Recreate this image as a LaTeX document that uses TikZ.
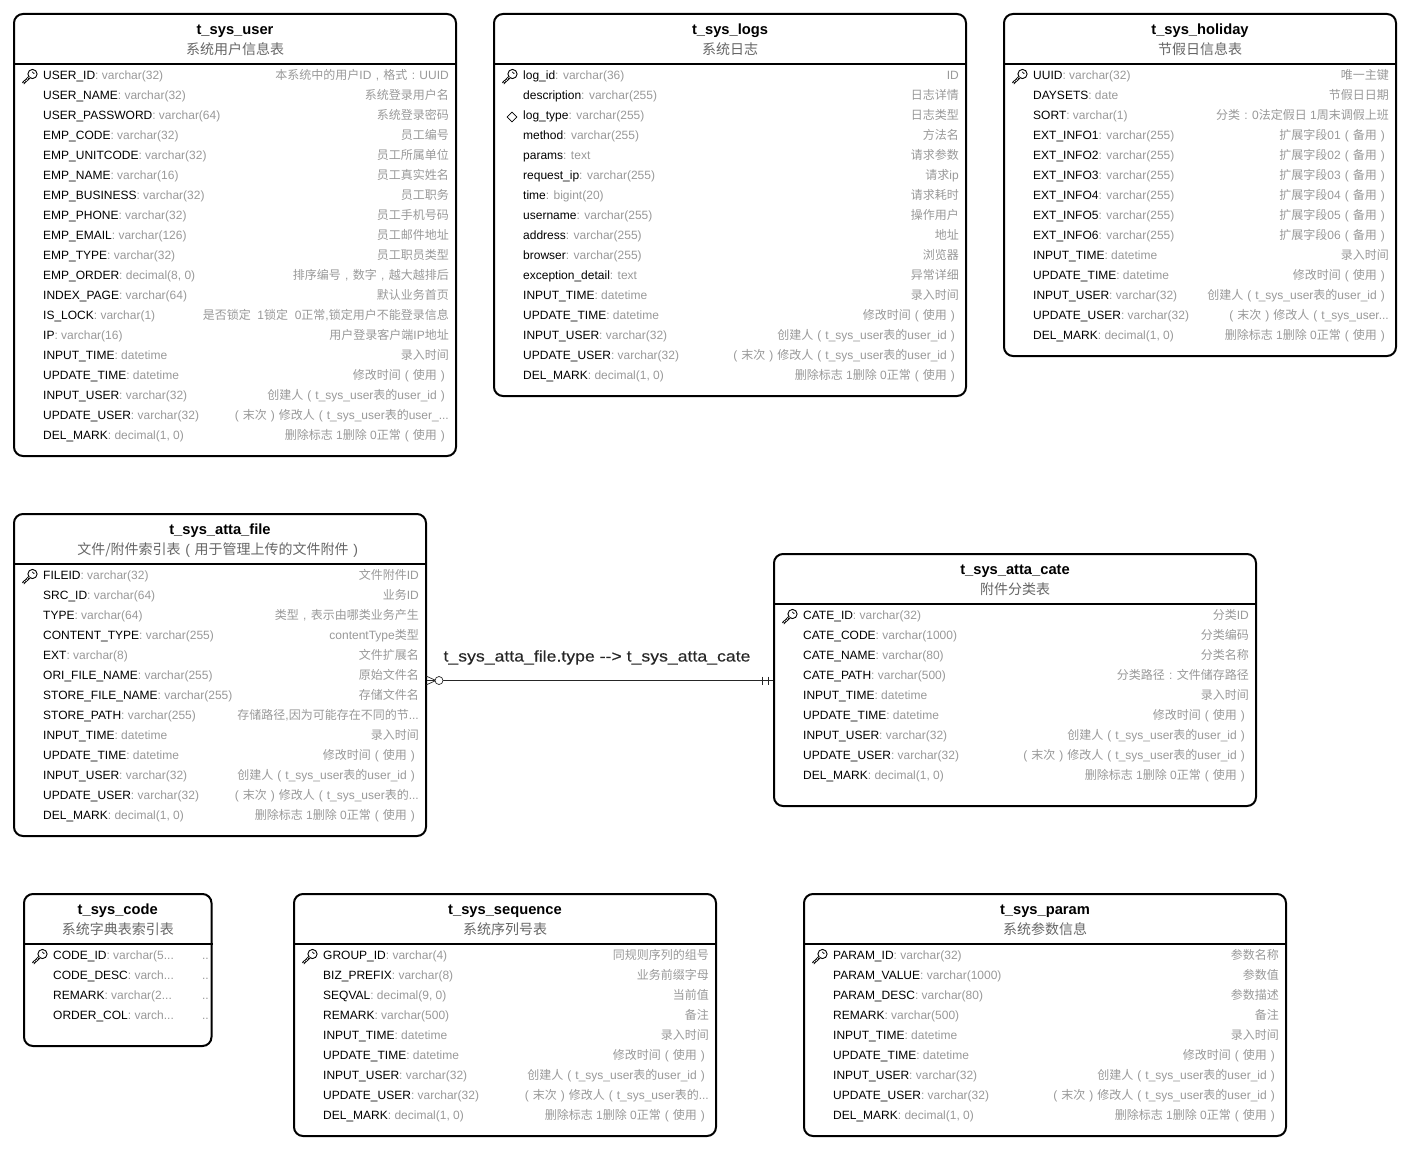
\documentclass[tikz,border=0pt]{standalone}
\usepackage{fontspec}
\setmainfont{Liberation Sans}
\newfontfamily\cjkfont{Noto Sans CJK SC}
\newfontfamily\linkfont[FakeStretch=1.14,FakeBold=0.25]{Liberation Sans}
\usetikzlibrary{shapes.geometric}
\definecolor{typegray}{HTML}{999999}
\definecolor{subgray}{HTML}{666666}
\newcommand{\Z}[1]{{\cjkfont #1}}
% full width marks, centred in their em as the reference prints them
\newcommand{\LP}{\makebox[1em]{\rmfamily(}}
\newcommand{\RP}{\makebox[1em]{\rmfamily)}}
\newcommand{\CM}{\makebox[1em]{\rmfamily,}}
\newcommand{\CL}{\makebox[1em]{\rmfamily:}}
\newcommand{\used}{\Z{修改时间\LP 使用\RP}}
\newcommand{\byuser}{\Z{创建人\LP}t\_sys\_user\Z{表的}user\_id\RP}
\newcommand{\delmark}{\Z{删除标志} 1\Z{删除} 0\Z{正常\LP 使用\RP}}
\newcounter{rowno}
\newcommand{\startrows}[4]{\def\rowtbl{#1}\def\rowl{#2}\def\rowr{#3}\def\rowy{#4}\setcounter{rowno}{0}}
\newcommand{\fieldrow}[3]{\stepcounter{rowno}%
\node[fieldname] (\rowtbl N\arabic{rowno}) at (\rowl,{\rowy+20*\value{rowno}-20+4.6}) {#1\textcolor{typegray}{: #2}};%
\node[fieldnote] (\rowtbl C\arabic{rowno}) at (\rowr,{\rowy+20*\value{rowno}-20+4.6}) {#3};}
\newcommand{\ertable}[7]{%
\node[tablebox, minimum width=#4pt, minimum height=#5pt] (#1) at ({#2+#4/2},{#3+#5/2}){};%
\node[tabletitle] (#1Title) at ([yshift=-21.3pt]#1.north) {#6};%
\node[tablesub] (#1Sub) at ([yshift=-41.7pt]#1.north) {#7};%
\draw[tablerule] ([yshift=-51pt]#1.north west) -- ([yshift=-51pt]#1.north east);}
\tikzset{
  tablebox/.style={draw=black, line width=2pt, rounded corners=9pt, inner sep=0pt, fill=white},
  tabletitle/.style={anchor=base, font=\fontsize{14.7}{16}\selectfont\bfseries, text=black, inner sep=0pt},
  tablesub/.style={anchor=base, font=\fontsize{14}{16}\selectfont\cjkfont, text=subgray, inner sep=0pt},
  tablerule/.style={draw=black, line width=2pt},
  fieldname/.style={anchor=base west, font=\fontsize{12}{14}\selectfont, text=black, inner sep=0pt},
  fieldnote/.style={anchor=base east, font=\fontsize{12}{14}\selectfont, text=typegray, inner sep=0pt},
  indexmark/.style={diamond, draw=black, line width=.8pt, inner sep=0pt, minimum width=10pt, minimum height=10pt},
  linklabel/.style={anchor=base, font=\fontsize{15.5}{17}\selectfont\linkfont, text=black!85, inner sep=0pt},
  keyicon/.pic={
    \draw[black, line width=.9pt] (3.5,-2) circle (4.6);
    \draw[black, line width=.7pt] (3.2,-4.2) arc (180:60:1.6);
    \draw[black, line width=2.8pt] (.4,1.2) -- (-6,7.4);
    \draw[white, line width=1.2pt, dash pattern=on 1pt off 1pt] (.4,1.2) -- (-6,7.4);
  }
}
\begin{document}
\begin{tikzpicture}[x=1pt,y=-1pt]
\useasboundingbox (0,0) rectangle (1410,1150);
% t_sys_user
\ertable{tuser}{14}{14}{442}{442}{t\_sys\_user}{系统用户信息表}
\pic at (29,76) {keyicon};
\startrows{tuser}{43}{449}{75}
\fieldrow{USER\_ID}{varchar(32)}{\Z{本系统中的用户}ID\Z{\CM 格式\CL}UUID}
\fieldrow{USER\_NAME}{varchar(32)}{\Z{系统登录用户名}}
\fieldrow{USER\_PASSWORD}{varchar(64)}{\Z{系统登录密码}}
\fieldrow{EMP\_CODE}{varchar(32)}{\Z{员工编号}}
\fieldrow{EMP\_UNITCODE}{varchar(32)}{\Z{员工所属单位}}
\fieldrow{EMP\_NAME}{varchar(16)}{\Z{员工真实姓名}}
\fieldrow{EMP\_BUSINESS}{varchar(32)}{\Z{员工职务}}
\fieldrow{EMP\_PHONE}{varchar(32)}{\Z{员工手机号码}}
\fieldrow{EMP\_EMAIL}{varchar(126)}{\Z{员工邮件地址}}
\fieldrow{EMP\_TYPE}{varchar(32)}{\Z{员工职员类型}}
\fieldrow{EMP\_ORDER}{decimal(8, 0)}{\Z{排序编号\CM 数字\CM 越大越排后}}
\fieldrow{INDEX\_PAGE}{varchar(64)}{\Z{默认业务首页}}
\fieldrow{IS\_LOCK}{varchar(1)}{\Z{是否锁定}~~1\Z{锁定}~~0\Z{正常},\Z{锁定用户不能登录信息}}
\fieldrow{IP}{varchar(16)}{\Z{用户登录客户端}IP\Z{地址}}
\fieldrow{INPUT\_TIME}{datetime}{\Z{录入时间}}
\fieldrow{UPDATE\_TIME}{datetime}{\used}
\fieldrow{INPUT\_USER}{varchar(32)}{\byuser}
\fieldrow{UPDATE\_USER}{varchar(32)}{\Z{\LP 末次\RP 修改人\LP}t\_sys\_user\Z{表的}user\_...}
\fieldrow{DEL\_MARK}{decimal(1, 0)}{\delmark}
% t_sys_logs
\ertable{tlogs}{494}{14}{472}{382}{t\_sys\_logs}{系统日志}
\pic at (509,76) {keyicon};
\node[indexmark] (tlogsIdx) at (512,117){};
\startrows{tlogs}{523}{959}{75}
\fieldrow{log\_id}{varchar(36)}{ID}
\fieldrow{description}{varchar(255)}{\Z{日志详情}}
\fieldrow{log\_type}{varchar(255)}{\Z{日志类型}}
\fieldrow{method}{varchar(255)}{\Z{方法名}}
\fieldrow{params}{text}{\Z{请求参数}}
\fieldrow{request\_ip}{varchar(255)}{\Z{请求}ip}
\fieldrow{time}{bigint(20)}{\Z{请求耗时}}
\fieldrow{username}{varchar(255)}{\Z{操作用户}}
\fieldrow{address}{varchar(255)}{\Z{地址}}
\fieldrow{browser}{varchar(255)}{\Z{浏览器}}
\fieldrow{exception\_detail}{text}{\Z{异常详细}}
\fieldrow{INPUT\_TIME}{datetime}{\Z{录入时间}}
\fieldrow{UPDATE\_TIME}{datetime}{\used}
\fieldrow{INPUT\_USER}{varchar(32)}{\byuser}
\fieldrow{UPDATE\_USER}{varchar(32)}{\Z{\LP 末次\RP 修改人\LP}t\_sys\_user\Z{表的}user\_id\RP}
\fieldrow{DEL\_MARK}{decimal(1, 0)}{\delmark}
% t_sys_holiday
\ertable{tholiday}{1004}{14}{392}{342}{t\_sys\_holiday}{节假日信息表}
\pic at (1019,76) {keyicon};
\startrows{tholiday}{1033}{1389}{75}
\fieldrow{UUID}{varchar(32)}{\Z{唯一主键}}
\fieldrow{DAYSETS}{date}{\Z{节假日日期}}
\fieldrow{SORT}{varchar(1)}{\Z{分类\CL}0\Z{法定假日} 1\Z{周末调假上班}}
\fieldrow{EXT\_INFO1}{varchar(255)}{\Z{扩展字段}01\Z{\LP 备用\RP}}
\fieldrow{EXT\_INFO2}{varchar(255)}{\Z{扩展字段}02\Z{\LP 备用\RP}}
\fieldrow{EXT\_INFO3}{varchar(255)}{\Z{扩展字段}03\Z{\LP 备用\RP}}
\fieldrow{EXT\_INFO4}{varchar(255)}{\Z{扩展字段}04\Z{\LP 备用\RP}}
\fieldrow{EXT\_INFO5}{varchar(255)}{\Z{扩展字段}05\Z{\LP 备用\RP}}
\fieldrow{EXT\_INFO6}{varchar(255)}{\Z{扩展字段}06\Z{\LP 备用\RP}}
\fieldrow{INPUT\_TIME}{datetime}{\Z{录入时间}}
\fieldrow{UPDATE\_TIME}{datetime}{\used}
\fieldrow{INPUT\_USER}{varchar(32)}{\byuser}
\fieldrow{UPDATE\_USER}{varchar(32)}{\Z{\LP 末次\RP 修改人\LP}t\_sys\_user...}
\fieldrow{DEL\_MARK}{decimal(1, 0)}{\delmark}
% t_sys_atta_file
\ertable{tfile}{14}{514}{412}{322}{t\_sys\_atta\_file}{文件/附件索引表\LP 用于管理上传的文件附件\RP}
\pic at (29,576) {keyicon};
\startrows{tfile}{43}{419}{575}
\fieldrow{FILEID}{varchar(32)}{\Z{文件附件}ID}
\fieldrow{SRC\_ID}{varchar(64)}{\Z{业务}ID}
\fieldrow{TYPE}{varchar(64)}{\Z{类型\CM 表示由哪类业务产生}}
\fieldrow{CONTENT\_TYPE}{varchar(255)}{contentType\Z{类型}}
\fieldrow{EXT}{varchar(8)}{\Z{文件扩展名}}
\fieldrow{ORI\_FILE\_NAME}{varchar(255)}{\Z{原始文件名}}
\fieldrow{STORE\_FILE\_NAME}{varchar(255)}{\Z{存储文件名}}
\fieldrow{STORE\_PATH}{varchar(255)}{\Z{存储路径},\Z{因为可能存在不同的节}...}
\fieldrow{INPUT\_TIME}{datetime}{\Z{录入时间}}
\fieldrow{UPDATE\_TIME}{datetime}{\used}
\fieldrow{INPUT\_USER}{varchar(32)}{\byuser}
\fieldrow{UPDATE\_USER}{varchar(32)}{\Z{\LP 末次\RP 修改人\LP}t\_sys\_user\Z{表的}...}
\fieldrow{DEL\_MARK}{decimal(1, 0)}{\delmark}
% t_sys_atta_cate
\ertable{tcate}{774}{554}{482}{252}{t\_sys\_atta\_cate}{附件分类表}
\pic at (789,616) {keyicon};
\startrows{tcate}{803}{1249}{615}
\fieldrow{CATE\_ID}{varchar(32)}{\Z{分类}ID}
\fieldrow{CATE\_CODE}{varchar(1000)}{\Z{分类编码}}
\fieldrow{CATE\_NAME}{varchar(80)}{\Z{分类名称}}
\fieldrow{CATE\_PATH}{varchar(500)}{\Z{分类路径\CL 文件储存路径}}
\fieldrow{INPUT\_TIME}{datetime}{\Z{录入时间}}
\fieldrow{UPDATE\_TIME}{datetime}{\used}
\fieldrow{INPUT\_USER}{varchar(32)}{\byuser}
\fieldrow{UPDATE\_USER}{varchar(32)}{\Z{\LP 末次\RP 修改人\LP}t\_sys\_user\Z{表的}user\_id\RP}
\fieldrow{DEL\_MARK}{decimal(1, 0)}{\delmark}
% link file -> cate
\coordinate (linkA) at (tfile.east |- 0,680.5);
\coordinate (linkB) at (tcate.west |- 0,680.5);
\coordinate (linkFoot) at (436,680.5);
\draw[line width=.7pt, black!85] (linkA) -- (linkB);
\draw[line width=.7pt, black!85] (linkFoot) -- ++(-10,-4.5) (linkFoot) -- ++(-10,4.5);
\node[circle, draw=black!85, fill=white, line width=.7pt, inner sep=0pt, minimum size=8pt] (linkRing) at (439,680.5){};
\draw[line width=.7pt, black!85] (762,676.5) -- (762,684.5) (768,676.5) -- (768,684.5);
\node[linklabel] (linkText) at (597,661.5) {t\_sys\_atta\_file.type {-}{-}> t\_sys\_atta\_cate};
% t_sys_code
\ertable{tcode}{24}{894}{187.5}{152}{t\_sys\_code}{系统字典表索引表}
\pic at (39,956) {keyicon};
\startrows{tcode}{53}{209}{955}
\fieldrow{CODE\_ID}{varchar(5...}{..}
\fieldrow{CODE\_DESC}{varch...}{..}
\fieldrow{REMARK}{varchar(2...}{..}
\fieldrow{ORDER\_COL}{varch...}{..}
% t_sys_sequence
\ertable{tseq}{294}{894}{422}{242}{t\_sys\_sequence}{系统序列号表}
\pic at (309,956) {keyicon};
\startrows{tseq}{323}{709}{955}
\fieldrow{GROUP\_ID}{varchar(4)}{\Z{同规则序列的组号}}
\fieldrow{BIZ\_PREFIX}{varchar(8)}{\Z{业务前缀字母}}
\fieldrow{SEQVAL}{decimal(9, 0)}{\Z{当前值}}
\fieldrow{REMARK}{varchar(500)}{\Z{备注}}
\fieldrow{INPUT\_TIME}{datetime}{\Z{录入时间}}
\fieldrow{UPDATE\_TIME}{datetime}{\used}
\fieldrow{INPUT\_USER}{varchar(32)}{\byuser}
\fieldrow{UPDATE\_USER}{varchar(32)}{\Z{\LP 末次\RP 修改人\LP}t\_sys\_user\Z{表的}...}
\fieldrow{DEL\_MARK}{decimal(1, 0)}{\delmark}
% t_sys_param
\ertable{tparam}{804}{894}{482}{242}{t\_sys\_param}{系统参数信息}
\pic at (819,956) {keyicon};
\startrows{tparam}{833}{1279}{955}
\fieldrow{PARAM\_ID}{varchar(32)}{\Z{参数名称}}
\fieldrow{PARAM\_VALUE}{varchar(1000)}{\Z{参数值}}
\fieldrow{PARAM\_DESC}{varchar(80)}{\Z{参数描述}}
\fieldrow{REMARK}{varchar(500)}{\Z{备注}}
\fieldrow{INPUT\_TIME}{datetime}{\Z{录入时间}}
\fieldrow{UPDATE\_TIME}{datetime}{\used}
\fieldrow{INPUT\_USER}{varchar(32)}{\byuser}
\fieldrow{UPDATE\_USER}{varchar(32)}{\Z{\LP 末次\RP 修改人\LP}t\_sys\_user\Z{表的}user\_id\RP}
\fieldrow{DEL\_MARK}{decimal(1, 0)}{\delmark}
\end{tikzpicture}
\end{document}
